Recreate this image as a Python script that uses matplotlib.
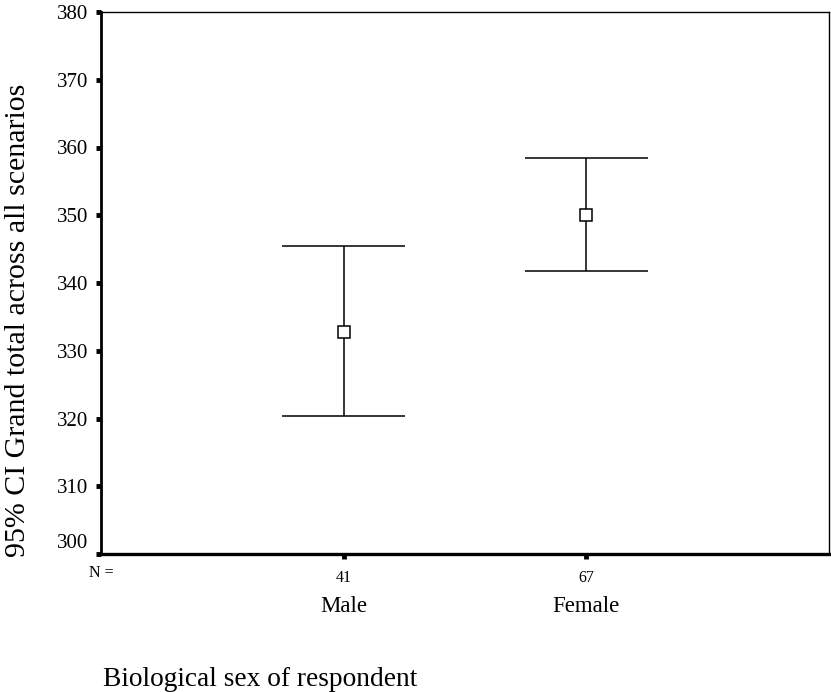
import matplotlib
matplotlib.use("Agg")
import matplotlib.pyplot as plt
import matplotlib.transforms as mtransforms

categories = ["Male", "Female"]
n_counts = [41, 67]
means = [332.8, 350.0]
upper = [345.5, 358.4]
lower = [320.3, 341.8]
yticks = [300, 310, 320, 330, 340, 350, 360, 370, 380]

serif = ["Liberation Serif", "DejaVu Serif"]
plt.rcParams["font.family"] = serif

fig = plt.figure(figsize=(8.31, 6.92), dpi=100)
ax = fig.add_axes([101 / 831, 1 - 554 / 692, 728 / 831, 542 / 692])

xpos = [1, 2]
cap_half = 0.254
for x, m, lo, hi in zip(xpos, means, lower, upper):
    ax.vlines(x, lo, hi, color="black", lw=1.1)
    ax.hlines([lo, hi], x - cap_half, x + cap_half, color="black", lw=1.1)
    ax.plot([x], [m], marker="s", ms=8.6, mfc="white", mec="black", mew=1.1, ls="none")

ax.set_xlim(0, 3)
ax.set_ylim(300, 380)
ax.set_yticks(yticks)
ax.set_yticklabels([str(v) for v in yticks], fontsize=15)
ax.set_xticks(xpos)
ax.set_xticklabels([str(n) for n in n_counts], fontsize=11.5)
ax.tick_params(axis="y", direction="out", length=3.8, width=3.5, pad=5.5)
ax.tick_params(axis="x", direction="out", length=3.5, width=3.5, pad=8)

# shift the 300 label upward as in the reference
lab0 = ax.get_yticklabels()[0]
lab0.set_transform(lab0.get_transform() + mtransforms.ScaledTranslation(0, 13 / 100, fig.dpi_scale_trans))

for side, lw in [("left", 2.0), ("bottom", 2.4), ("top", 1.0), ("right", 1.0)]:
    ax.spines[side].set_linewidth(lw)
    ax.spines[side].set_color("black")

fig.text(5 / 831, 1 - 557 / 692, "95% CI Grand total across all scenarios",
         rotation=90, fontsize=21.5, ha="left", va="bottom")

# N = label and category labels
fig.text(101 / 831, 1 - 573 / 692, "N =", fontsize=11.5, ha="center", va="center")
for x, c in zip(xpos, categories):
    ax.annotate(c, xy=(x, 0), xycoords=("data", "axes fraction"),
                xytext=(0, -(607 - 554) * 0.72), textcoords="offset points",
                ha="center", va="center", fontsize=16.5)

fig.text(103 / 831, 1 - 679 / 692, "Biological sex of respondent", fontsize=19.7,
         ha="left", va="center")

fig.savefig("out.png", dpi=100)
